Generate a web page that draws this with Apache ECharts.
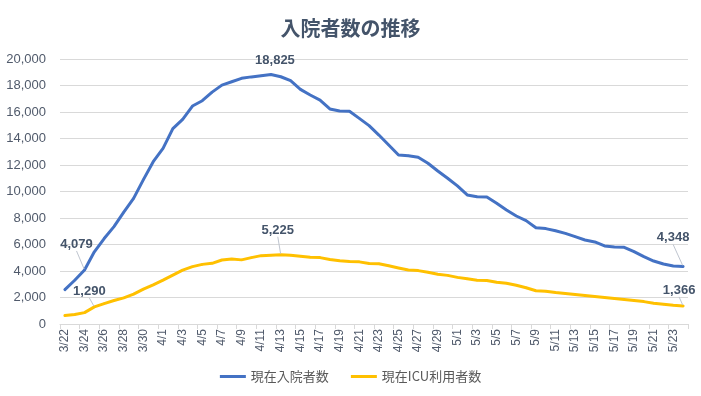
<!DOCTYPE html>
<html>
<head>
<meta charset="utf-8">
<script src="https://cdn.jsdelivr.net/npm/echarts@6/dist/echarts.min.js"></script>
<style>
  html, body { margin: 0; padding: 0; background: #fff; }
  #chart { width: 701px; height: 396px; }
</style>
</head>
<body>
<div id="chart"></div>
<script>
// 日付 (3/22 - 5/24)
const dates = [
  '3/22', '3/23', '3/24', '3/25', '3/26', '3/27', '3/28', '3/29', '3/30', '3/31',
  '4/1', '4/2', '4/3', '4/4', '4/5', '4/6', '4/7', '4/8', '4/9', '4/10',
  '4/11', '4/12', '4/13', '4/14', '4/15', '4/16', '4/17', '4/18', '4/19', '4/20',
  '4/21', '4/22', '4/23', '4/24', '4/25', '4/26', '4/27', '4/28', '4/29', '4/30',
  '5/1', '5/2', '5/3', '5/4', '5/5', '5/6', '5/7', '5/8', '5/9', '5/10',
  '5/11', '5/12', '5/13', '5/14', '5/15', '5/16', '5/17', '5/18', '5/19', '5/20',
  '5/21', '5/22', '5/23', '5/24'
]

// 現在入院者数
const inpatients = [
  2600, 3300, 4079, 5450, 6450, 7350, 8450, 9480, 10900, 12250,
  13250, 14750, 15450, 16450, 16850, 17500, 18030, 18280, 18540, 18650,
  18730, 18825, 18660, 18360, 17710, 17280, 16900, 16230, 16080, 16050,
  15520, 14970, 14260, 13510, 12750, 12700, 12580, 12130, 11550, 11000,
  10420, 9740, 9610, 9580, 9110, 8600, 8150, 7800, 7270, 7200,
  7040, 6840, 6590, 6340, 6190, 5890, 5810, 5790, 5460, 5080,
  4750, 4530, 4380, 4348
]

// 現在ICU利用者数
const icuPatients = [
  640, 710, 860, 1290, 1540, 1770, 1975, 2250, 2630, 2960,
  3310, 3690, 4070, 4330, 4500, 4580, 4830, 4910, 4840, 5010,
  5160, 5190, 5225, 5180, 5110, 5040, 5010, 4870, 4770, 4720,
  4690, 4560, 4540, 4390, 4230, 4080, 4030, 3900, 3750, 3670,
  3520, 3410, 3310, 3290, 3150, 3070, 2920, 2740, 2510, 2480,
  2380, 2310, 2230, 2150, 2080, 2000, 1920, 1850, 1770, 1690,
  1570, 1490, 1410, 1366
]

const yTicks = [0, 2000, 4000, 6000, 8000, 10000, 12000, 14000, 16000, 18000, 20000]

// ラベルを付ける点
const inpatientLabelIdx = [2, 21, 63]
const icuLabelIdx = [3, 22, 63]

// ラベルの位置調整 (series-index)
const labelShift = {
  '0-2': [-8, -13],
  '0-21': [4, -2],
  '0-63': [-10, -16],
  '1-3': [-5, -3],
  '1-22': [-3, -12],
  '1-63': [-4, -3]
}

const textColor = '#505a6b'
const numFont = "'Liberation Sans', 'Noto Sans CJK JP', sans-serif"

function withLabels(values, idxList, seriesIndex) {
  return values.map((v, i) => {
    if (idxList.indexOf(i) < 0) return v
    return {
      value: v,
      label: {
        show: true,
        position: 'top',
        formatter: (p) => p.value.toLocaleString('en-US'),
        fontSize: 13,
        fontWeight: 'bold',
        fontFamily: numFont,
        color: '#44546a'
      },
      labelLine: {
        show: !(seriesIndex === 0 && i === 21),
        lineStyle: { color: '#bfc5cf', width: 1 }
      }
    }
  })
}

const chart = echarts.init(document.getElementById('chart'), null, { renderer: 'canvas' })

chart.setOption({
  backgroundColor: '#fff',
  animation: false,
  title: {
    text: '入院者数の推移',
    left: 'center',
    top: 13,
    textStyle: {
      fontSize: 20,
      fontWeight: 'bold',
      color: '#44546a',
      fontFamily: "'Noto Sans CJK JP', sans-serif"
    }
  },
  legend: {
    bottom: 8,
    left: 'center',
    icon: 'rect',
    itemWidth: 26,
    itemHeight: 3,
    itemGap: 22,
    textStyle: {
      fontSize: 13,
      color: '#595959',
      fontFamily: "'Noto Sans CJK JP', sans-serif"
    },
    data: ['現在入院者数', '現在ICU利用者数']
  },
  grid: {
    left: 60,
    right: 13,
    top: 59,
    bottom: 72,
    containLabel: false
  },
  xAxis: {
    type: 'category',
    data: dates,
    boundaryGap: true,
    axisLine: { lineStyle: { color: '#d9d9d9', width: 1 } },
    axisTick: {
      show: true,
      interval: 1,
      length: 5,
      lineStyle: { color: '#d9d9d9' }
    },
    axisLabel: {
      interval: 1,
      rotate: 90,
      margin: 5,
      fontSize: 12,
      color: textColor,
      fontFamily: numFont
    }
  },
  yAxis: {
    type: 'value',
    min: yTicks[0],
    max: yTicks[yTicks.length - 1],
    interval: yTicks[1] - yTicks[0],
    axisLine: { show: false },
    axisTick: { show: false },
    splitLine: { lineStyle: { color: '#d9d9d9', width: 1 } },
    axisLabel: {
      margin: 14,
      fontSize: 13,
      color: textColor,
      fontFamily: numFont,
      formatter: (v) => v.toLocaleString('en-US')
    }
  },
  series: [
    {
      name: '現在入院者数',
      type: 'line',
      data: withLabels(inpatients, inpatientLabelIdx, 0),
      symbol: 'circle',
      symbolSize: 2,
      showAllSymbol: true,
      itemStyle: { color: '#4472c4' },
      lineStyle: { color: '#4472c4', width: 3, cap: 'round', join: 'round' },
      labelLayout: (p) => {
        const s = labelShift[p.seriesIndex + '-' + p.dataIndex] || [0, 0]
        return { dx: s[0], dy: s[1] }
      }
    },
    {
      name: '現在ICU利用者数',
      type: 'line',
      data: withLabels(icuPatients, icuLabelIdx, 1),
      symbol: 'circle',
      symbolSize: 2,
      showAllSymbol: true,
      itemStyle: { color: '#ffc000' },
      lineStyle: { color: '#ffc000', width: 3, cap: 'round', join: 'round' },
      labelLayout: (p) => {
        const s = labelShift[p.seriesIndex + '-' + p.dataIndex] || [0, 0]
        return { dx: s[0], dy: s[1] }
      }
    }
  ]
})
</script>
</body>
</html>
